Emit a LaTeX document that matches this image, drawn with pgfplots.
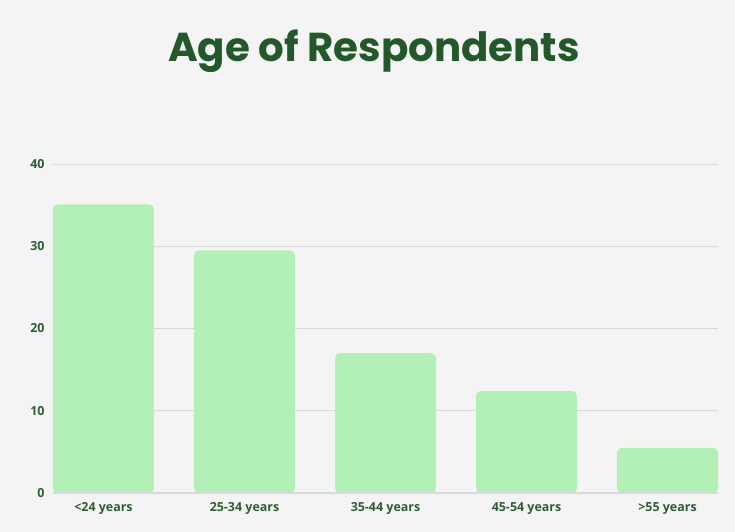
\documentclass[border=0pt]{standalone}
\usepackage{pgfplots}
\pgfplotsset{compat=1.18}
\usepackage{fontspec}
\setmainfont{Open Sans}
\newfontfamily\titlefont{Poppins}
\definecolor{bg}{HTML}{F4F4F4}
\definecolor{barfill}{HTML}{B3F0B5}
\definecolor{darkgreen}{HTML}{22582A}
\definecolor{labelgreen}{HTML}{2F5E35}
\definecolor{gridgray}{HTML}{D9D9D9}
\begin{document}
\begin{tikzpicture}
\fill[bg] (0,0) rectangle (735bp,532bp);
\node[font=\titlefont\bfseries\fontsize{40.5}{42}\selectfont, text=darkgreen]
  at (374bp,481bp) {Age of Respondents};
\begin{axis}[
    at={(53bp,39bp)}, anchor=south west,
    scale only axis,
    width=665bp, height=329bp,
    ybar, bar width=101bp,
    xmin=-0.358, xmax=4.358,
    ymin=0, ymax=40,
    xtick=data,
    xticklabels={<24 years, 25-34 years, 35-44 years, 45-54 years, >55 years},
    ytick={0,10,20,30,40},
    axis line style={draw=none},
    axis x line*=bottom,
    major tick length=0pt,
    ymajorgrids=true,
    grid style={gridgray, line width=0.8bp},
    tick label style={font=\bfseries\fontsize{12.5}{14}\selectfont, text=labelgreen},
    /pgf/number format/assume math mode=true,
    xticklabel style={yshift=-6bp},
    yticklabel style={xshift=-5bp},
    clip=false,
]
\addplot[fill=barfill, draw=none, rounded corners=5bp] coordinates {
    (0,35.1) (1,29.5) (2,17.0) (3,12.4) (4,5.5)
};
\draw[gridgray, line width=1.2bp] (axis cs:-0.358,0) -- (axis cs:4.358,0);
\end{axis}
\end{tikzpicture}
\end{document}
